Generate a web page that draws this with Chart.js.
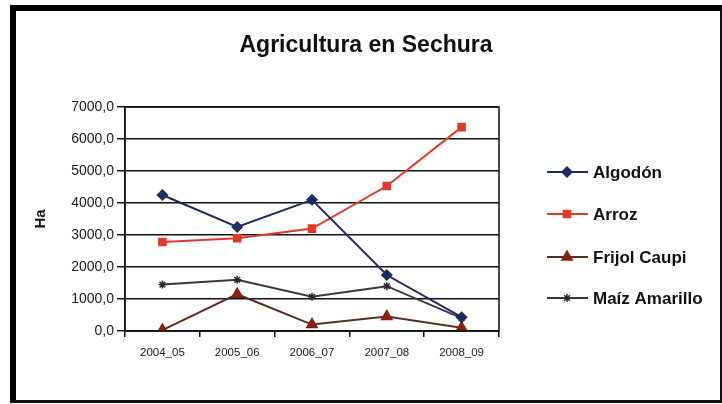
<!DOCTYPE html>
<html>
<head>
<meta charset="utf-8">
<script src="https://cdn.jsdelivr.net/npm/chart.js@4.4.1/dist/chart.umd.min.js"></script>
<style>
  body { margin:0; background:#fff; }
  #wrap { position:relative; width:722px; height:404px; }
  #frame { position:absolute; left:10px; top:5px; width:704px; height:389px;
           border-left:6px solid #000; border-top:6px solid #000;
           border-right:3px solid #111; border-bottom:3px solid #111; pointer-events:none; }
  canvas { position:absolute; left:0; top:0; }
</style>
</head>
<body>
<div id="wrap">
  <canvas id="myChart" width="722" height="404"></canvas>
  <div id="frame"></div>
</div>
<script>
// data
const campañas = ['2004_05', '2005_06', '2006_07', '2007_08', '2008_09'];
const algodon = [4250, 3250, 4100, 1750, 430];
const arroz = [2780, 2900, 3200, 4530, 6370];
const frijol = [30, 1150, 200, 450, 100];
const maiz = [1450, 1600, 1070, 1400, 400];
const yTicks = [0, 1000, 2000, 3000, 4000, 5000, 6000, 7000];

// title + legend + plot box
const extras = {
  id: 'extras',
  afterDraw(chart) {
    const ctx = chart.ctx, a = chart.chartArea;
    ctx.save();
    ctx.strokeStyle = '#111';
    ctx.lineWidth = 1.5;
    ctx.strokeRect(a.left, a.top, a.right - a.left, a.bottom - a.top);

    ctx.fillStyle = '#111';
    ctx.font = 'bold 23px "Liberation Sans", Arial, sans-serif';
    ctx.textAlign = 'center';
    ctx.textBaseline = 'middle';
    ctx.fillText('Agricultura en Sechura', 366, 46);

    const ys = [172, 214, 257, 298];
    ctx.textAlign = 'left';
    ctx.font = 'bold 17px "Liberation Sans", Arial, sans-serif';
    chart.data.datasets.forEach((ds, i) => {
      const y = ys[i];
      ctx.strokeStyle = ds.borderColor;
      ctx.lineWidth = 2;
      ctx.beginPath(); ctx.moveTo(547, y); ctx.lineTo(588, y); ctx.stroke();
      ctx.fillStyle = ds.pointBackgroundColor;
      ctx.strokeStyle = ds.pointBorderColor;
      ctx.lineWidth = 1.5;
      Chart.helpers.drawPoint(ctx, {pointStyle: ds.pointStyle, radius: ds.pointRadius, borderWidth: 1.5}, 567, y);
      ctx.fillStyle = '#111';
      ctx.fillText(ds.label, 593, y + 1);
    });
    ctx.restore();
  }
};

const data = {
  labels: campañas,
  datasets: [
    { label: 'Algodón', data: algodon, borderColor: '#1d2d5c', pointBackgroundColor: '#1d2d5c',
      pointBorderColor: '#1d2d5c', pointStyle: 'rectRot', pointRadius: 5 },
    { label: 'Arroz', data: arroz, borderColor: '#e0392c', pointBackgroundColor: '#e0392c',
      pointBorderColor: '#e0392c', pointStyle: 'rect', pointRadius: 5 },
    { label: 'Frijol Caupi', data: frijol, borderColor: '#5a2e1e', pointBackgroundColor: '#8c1d12',
      pointBorderColor: '#8c1d12', pointStyle: 'triangle', pointRadius: 6 },
    { label: 'Maíz Amarillo', data: maiz, borderColor: '#3a3a3a', pointBackgroundColor: '#2a2a2a',
      pointBorderColor: '#2a2a2a', pointStyle: 'star', pointRadius: 4 }
  ]
};
data.datasets.forEach(d => { d.borderWidth = 2; d.tension = 0; d.pointBorderWidth = 1.5; });

const config = {
  type: 'line',
  data: data,
  options: {
    responsive: false,
    animation: false,
    layout: { padding: { top: 107, right: 223, bottom: 43, left: 0 } },
    plugins: { legend: { display: false }, tooltip: { enabled: false } },
    scales: {
      x: {
        offset: true,
        grid: { offset: true, drawOnChartArea: false, drawTicks: true, tickLength: 6, color: '#111', lineWidth: 1.5 },
        border: { color: '#111', width: 1.5 },
        ticks: { color: '#1a1a1a', font: { size: 11.5, family: '"Liberation Sans", Arial' }, padding: 9 },
        afterFit(s) { s.height = 30; }
      },
      y: {
        min: 0, max: 7000,
        afterBuildTicks(s) { s.ticks = yTicks.map(v => ({ value: v })); },
        grid: { color: '#111', lineWidth: 1.5, tickLength: 8 },
        border: { color: '#111', width: 1.5 },
        ticks: { color: '#1a1a1a', font: { size: 14, family: '"Liberation Sans", Arial' }, padding: 3,
                 callback: v => v.toFixed(1).replace('.', ',') },
        title: { display: true, text: 'Ha', color: '#111',
                 font: { size: 15, weight: 'bold', family: '"Liberation Sans", Arial' }, padding: { top: 32 } },
        afterFit(s) { s.width = 125; }
      }
    }
  },
  plugins: [extras]
};

const myChart = new Chart(document.getElementById('myChart'), config);
</script>
</body>
</html>
